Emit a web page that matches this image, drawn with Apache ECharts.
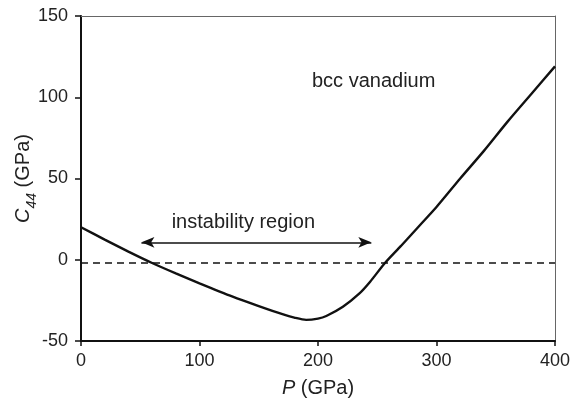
<!DOCTYPE html>
<html><head><meta charset="utf-8">
<script src="https://cdn.jsdelivr.net/npm/echarts@6/dist/echarts.min.js"></script>
<style>html,body{margin:0;padding:0;background:#fff}#c{width:572px;height:403px}</style>
</head><body><div id="c"></div>
<script>
const pressure = [0, 20, 40, 60, 80, 100, 128, 150, 170, 180, 190, 200, 207, 221, 235, 244, 256.5, 270, 285, 300, 320, 340, 360, 380, 400];
const c44 = [20, 12.4, 5, -2, -8.4, -14.5, -22.7, -28.5, -33.5, -35.6, -37, -36.2, -34.6, -28.9, -20.7, -13.5, -2, 8.5, 20.5, 32.5, 50, 67, 85, 102, 119];
const zeroLineLevel = -2;
const arrowFrom = [51, 10.7];
const arrowTo = [245, 10.7];
const xTicks = [0, 100, 200, 300, 400];
const yTicks = [-50, 0, 50, 100, 150];
const annotations = [
  {text: 'bcc vanadium', at: [247, 110]},
  {text: 'instability region', at: [137, 23]}
];

const ff = '"Liberation Sans", Arial, Helvetica, sans-serif';
const chart = echarts.init(document.getElementById('c'));
const axisLabel = {fontFamily: ff, fontSize: 18, color: '#222'};
chart.setOption({
  animation: false,
  grid: {left: 81, right: 17, top: 16, bottom: 62, containLabel: false, outerBoundsMode: 'none'},
  xAxis: [{
    type: 'value', min: xTicks[0], max: xTicks[xTicks.length-1], interval: 100,
    axisLine: {onZero: false, lineStyle: {color: '#111', width: 2}},
    axisTick: {show: true, length: 5, lineStyle: {color: '#111', width: 1.5}},
    axisLabel: Object.assign({margin: 11}, axisLabel),
    splitLine: {show: false},
    name: '{i|P} (GPa)', nameLocation: 'middle', nameGap: 37, nameMoveOverlap: false,
    nameTextStyle: {fontFamily: ff, fontSize: 20, color: '#222', rich: {i: {fontStyle: 'italic', fontFamily: ff, fontSize: 20, color: '#222'}}}
  }, {
    type: 'value', position: 'top', min: 0, max: 400,
    axisLine: {show: true, onZero: false, lineStyle: {color: '#666', width: 1}},
    axisTick: {show: false}, axisLabel: {show: false}, splitLine: {show: false}
  }],
  yAxis: [{
    type: 'value', min: yTicks[0], max: yTicks[yTicks.length-1], interval: 50,
    axisLine: {show: true, onZero: false, lineStyle: {color: '#111', width: 2}},
    axisTick: {show: true, length: 6, lineStyle: {color: '#111', width: 1.5}},
    axisLabel: Object.assign({margin: 13}, axisLabel),
    splitLine: {show: false},
    name: '{i|C}{sub|44} (GPa)', nameLocation: 'middle', nameGap: 46, nameMoveOverlap: false,
    nameTextStyle: {fontFamily: ff, fontSize: 20, color: '#222',
      rich: {i: {fontStyle: 'italic', fontFamily: ff, fontSize: 20, color: '#222', lineHeight: 24},
             sub: {fontStyle: 'italic', fontFamily: ff, fontSize: 14, color: '#222', lineHeight: 24, verticalAlign: 'bottom', padding: [0, 0, -4, 0]}}}
  }, {
    type: 'value', position: 'right', min: -50, max: 150,
    axisLine: {show: true, onZero: false, lineStyle: {color: '#666', width: 1}},
    axisTick: {show: false}, axisLabel: {show: false}, splitLine: {show: false}
  }],
  series: [{
    type: 'line', data: pressure.map((p, i) => [p, c44[i]]),
    smooth: 0.25, symbol: 'none',
    lineStyle: {color: '#111', width: 2.4},
    markPoint: {
      symbol: 'circle', symbolSize: 0,
      label: {show: true, fontFamily: ff, fontSize: 20, color: '#222', position: 'inside', formatter: p => p.name},
      data: annotations.map(a => ({name: a.text, coord: a.at}))
    },
    markLine: {
      silent: true, symbol: ['arrow', 'arrow'], symbolSize: [8, 13],
      lineStyle: {color: '#111', width: 1.5, type: 'solid'},
      label: {show: false},
      data: [[{coord: arrowFrom}, {coord: arrowTo}]]
    }
  }, {
    type: 'line', data: [[0, zeroLineLevel], [400, zeroLineLevel]], symbol: 'none',
    lineStyle: {color: '#111', width: 1.5, type: [7, 5]}
  }]
});
</script></body></html>
